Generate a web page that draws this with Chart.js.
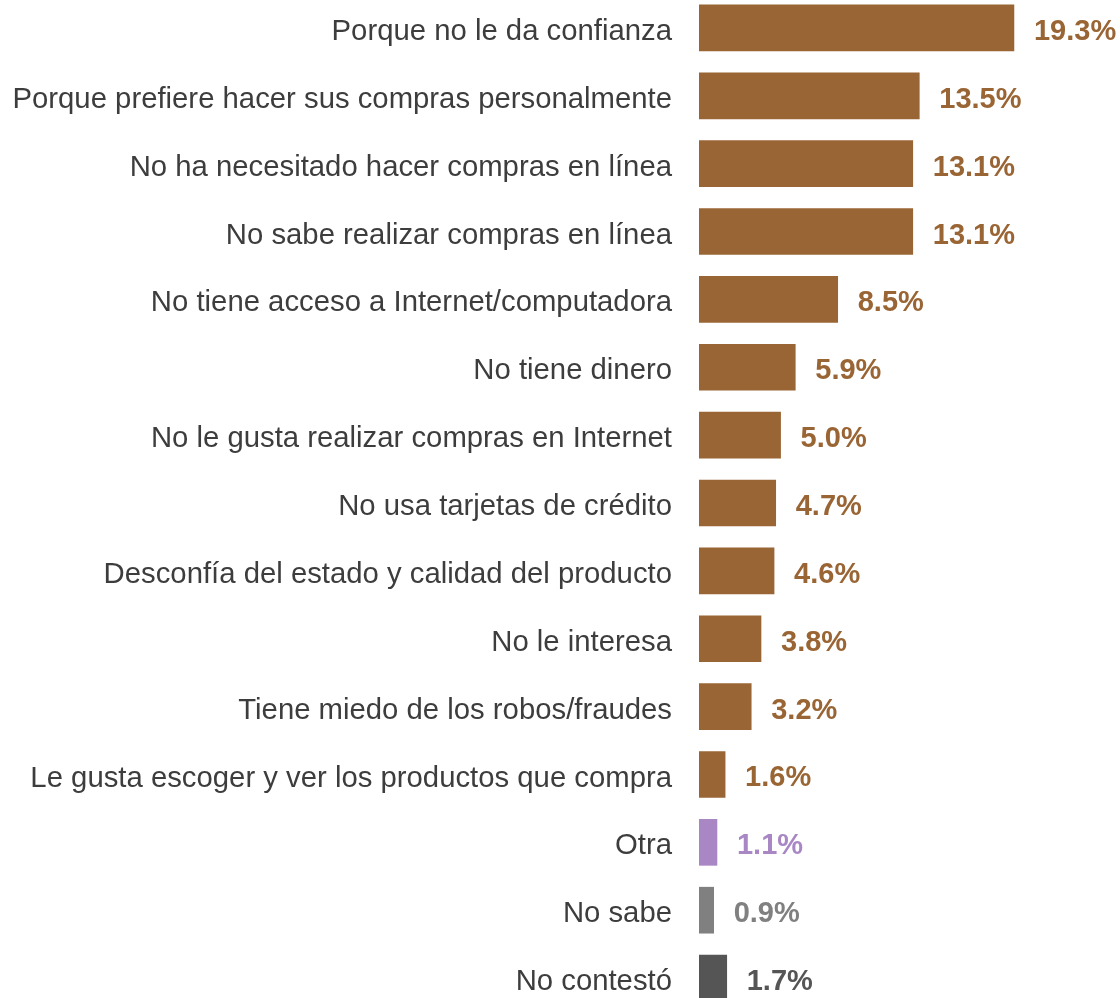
<!DOCTYPE html>
<html>
<head>
<meta charset="utf-8">
<script src="https://cdn.jsdelivr.net/npm/chart.js@4.4.0/dist/chart.umd.min.js"></script>
<style>
  html, body { margin: 0; padding: 0; background: #ffffff; overflow: hidden; }
  #wrap { position: absolute; left: 0; top: -6px; width: 1120px; height: 1018px; }
</style>
</head>
<body>
<div id="wrap"><canvas id="c"></canvas></div>
<script>
const categories = [
  "Porque no le da confianza",
  "Porque prefiere hacer sus compras personalmente",
  "No ha necesitado hacer compras en línea",
  "No sabe realizar compras en línea",
  "No tiene acceso a Internet/computadora",
  "No tiene dinero",
  "No le gusta realizar compras en Internet",
  "No usa tarjetas de crédito",
  "Desconfía del estado y calidad del producto",
  "No le interesa",
  "Tiene miedo de los robos/fraudes",
  "Le gusta escoger y ver los productos que compra",
  "Otra",
  "No sabe",
  "No contestó"
];
const values = [19.3, 13.5, 13.1, 13.1, 8.5, 5.9, 5.0, 4.7, 4.6, 3.8, 3.2, 1.6, 1.1, 0.9, 1.7];
const valueLabels = ["19.3%", "13.5%", "13.1%", "13.1%", "8.5%", "5.9%", "5.0%", "4.7%", "4.6%", "3.8%", "3.2%", "1.6%", "1.1%", "0.9%", "1.7%"];
const barColors = ["#9a6534","#9a6534","#9a6534","#9a6534","#9a6534","#9a6534","#9a6534","#9a6534","#9a6534","#9a6534","#9a6534","#9a6534","#a987c4","#808080","#555555"];

const FONT = "'Liberation Sans', Arial, Helvetica, sans-serif";

const valueLabelPlugin = {
  id: 'valueLabels',
  afterDatasetsDraw(chart) {
    const ctx = chart.ctx;
    const meta = chart.getDatasetMeta(0);
    ctx.save();
    ctx.font = "bold 29px " + FONT;
    ctx.textAlign = "left";
    ctx.textBaseline = "middle";
    meta.data.forEach((bar, i) => {
      ctx.fillStyle = barColors[i];
      ctx.fillText(valueLabels[i], bar.x + 20, bar.y + 4);
    });
    ctx.restore();
  }
};

new Chart(document.getElementById('c'), {
  type: 'bar',
  data: {
    labels: categories,
    datasets: [{
      data: values,
      backgroundColor: barColors,
      borderWidth: 0,
      barThickness: 46
    }]
  },
  options: {
    indexAxis: 'y',
    responsive: true,
    maintainAspectRatio: false,
    animation: false,
    layout: { padding: 0 },
    plugins: {
      legend: { display: false },
      tooltip: { enabled: false },
      title: { display: false }
    },
    scales: {
      x: {
        display: false,
        min: 0,
        max: 25.8
      },
      y: {
        afterFit(scale) {
          scale.width = 699;
          scale.paddingTop = 0;
          scale.paddingBottom = 0;
        },
        grid: { display: false, drawTicks: false, tickLength: 0 },
        border: { display: false },
        ticks: {
          padding: 27,
          labelOffset: 4,
          color: "#3d3d3d",
          font: { family: FONT, size: 29.3 }
        }
      }
    }
  },
  plugins: [valueLabelPlugin]
});
</script>
</body>
</html>
